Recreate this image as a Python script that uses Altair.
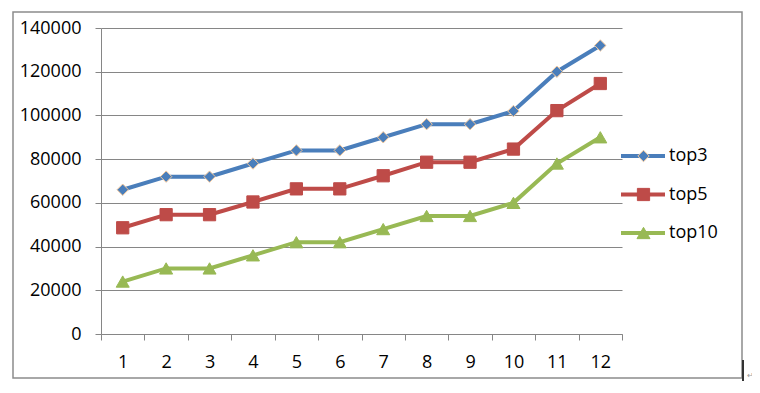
import altair as alt
import pandas as pd

months = [str(i) for i in range(1, 13)]
series = ["top3", "top5", "top10"]
top3 = [66000, 72000, 72000, 78000, 84000, 84000, 90000, 96000, 96000, 102000, 120000, 132000]
top5 = [48600, 54600, 54600, 60400, 66400, 66400, 72400, 78600, 78600, 84600, 102200, 114600]
top10 = [24000, 30000, 30000, 36000, 42000, 42000, 48000, 54000, 54000, 60000, 78000, 90000]
y_ticks = [0, 20000, 40000, 60000, 80000, 100000, 120000, 140000]

colors = ["#4a7ebb", "#be4b48", "#98b954"]
marker_strokes = ["#f6c99b", "#be4b48", "#98b954"]
shapes = ["diamond", "square", "triangle-up"]
sizes = [130, 170, 190]

rows = []
for name, vals in zip(series, [top3, top5, top10]):
    for m, v in zip(months, vals):
        rows.append({"month": m, "value": v, "series": name})
df = pd.DataFrame(rows)
leg_df = pd.DataFrame({"series": series})
one = pd.DataFrame({"a": [0]})

FONT = "Open Sans"
GRAY = "#868686"

x = alt.X("month:N", sort=months,
          scale=alt.Scale(type="band", paddingInner=0, paddingOuter=0),
          axis=alt.Axis(title=None, labelAngle=0, tickBand="extent", grid=False,
                        labelPadding=13, tickSize=6))
y = alt.Y("value:Q", scale=alt.Scale(domain=[0, 140000], nice=False),
          axis=alt.Axis(title=None, values=y_ticks, format="d", grid=True,
                        labelPadding=14, tickSize=6))
color = alt.Color("series:N", scale=alt.Scale(domain=series, range=colors), legend=None)
fill = alt.Fill("series:N", scale=alt.Scale(domain=series, range=colors), legend=None)
stroke = alt.Stroke("series:N", scale=alt.Scale(domain=series, range=marker_strokes), legend=None)
shape = alt.Shape("series:N", scale=alt.Scale(domain=series, range=shapes), legend=None)
size = alt.Size("series:N", scale=alt.Scale(domain=series, range=sizes), legend=None)

base = alt.Chart(df)
lines = base.mark_line(strokeWidth=4).encode(x=x, y=y, color=color, detail="series:N")
points = base.mark_point(filled=True, opacity=1, strokeWidth=1).encode(
    x=x, y=y, fill=fill, stroke=stroke, shape=shape, size=size)
main = alt.layer(lines, points)

ly = alt.Y("series:N", sort=series,
           scale=alt.Scale(type="point", domain=series, range=[128, 205], padding=0),
           axis=None)
leg = alt.Chart(leg_df)
leg_line = leg.mark_rule(strokeWidth=4).encode(
    x=alt.value(520), x2=alt.value(564), y=ly, color=color)
leg_pts = leg.mark_point(filled=True, opacity=1, strokeWidth=1).encode(
    x=alt.value(542.5), y=ly, fill=fill, stroke=stroke, shape=shape, size=size)
leg_text = leg.mark_text(align="left", baseline="middle", fontSize=18, font=FONT,
                         color="#000000").encode(x=alt.value(568), y=ly, text="series:N")
frame = alt.Chart(one).mark_rect(fill="transparent", stroke="#8c8c8c", strokeWidth=1.5).encode(
    x=alt.value(-88), x2=alt.value(641), y=alt.value(-16), y2=alt.value(350))
mark_bar = alt.Chart(one).mark_rule(strokeWidth=2, color="#333333").encode(
    x=alt.value(642), y=alt.value(332), y2=alt.value(353))
ret = alt.Chart(one).mark_text(text="↵", fontSize=8, color="#999999", font=FONT).encode(
    x=alt.value(649), y=alt.value(348))

other = alt.layer(leg_line, leg_pts, leg_text, frame, mark_bar, ret)

chart = alt.layer(main, other).resolve_scale(y="independent").properties(
    width=521, height=306,
    background="#ffffff",
    autosize=alt.AutoSizeParams(type="none"),
    padding={"left": 93, "top": 20, "right": 130, "bottom": 51},
).configure_view(strokeOpacity=0).configure_axis(
    domainColor=GRAY, gridColor=GRAY, tickColor=GRAY, domainWidth=1, gridWidth=1,
    tickWidth=1, gridOpacity=1, labelColor="#000000", labelFont=FONT, labelFontSize=18,
)

chart.save("out.html", embed_options={"renderer": "svg", "actions": False})
